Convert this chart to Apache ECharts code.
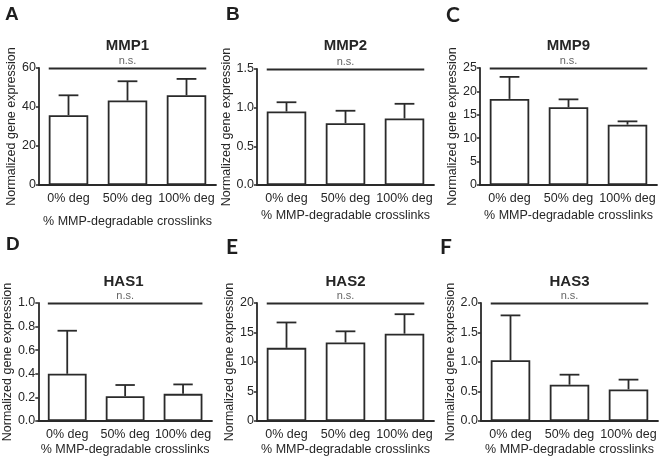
<!DOCTYPE html>
<html><head><meta charset="utf-8">
<script src="https://cdn.jsdelivr.net/npm/echarts@6/dist/echarts.min.js"></script>
<style>html,body{margin:0;padding:0;background:#fff}#c{width:664px;height:460px}</style>
</head><body><div id="c"></div>
<script>
// ---- data ----
const categories = ['0% deg', '50% deg', '100% deg'];
const panelLetters = ['A', 'B', 'C', 'D', 'E', 'F'];
const genes = ['MMP1', 'MMP2', 'MMP9', 'HAS1', 'HAS2', 'HAS3'];
const mmp1Mean = [35.8, 43.3, 46.0];
const mmp1Err  = [10.2, 9.9, 8.4];
const mmp2Mean = [0.95, 0.80, 0.86];
const mmp2Err  = [0.12, 0.16, 0.19];
const mmp9Mean = [18.4, 16.6, 12.9];
const mmp9Err  = [4.7, 1.7, 0.7];
const has1Mean = [0.40, 0.21, 0.23];
const has1Err  = [0.365, 0.095, 0.08];
const has2Mean = [12.4, 13.3, 14.8];
const has2Err  = [4.3, 1.9, 3.3];
const has3Mean = [1.03, 0.615, 0.536];
const has3Err  = [0.76, 0.17, 0.165];
const yMax = [60, 1.5, 25, 1.0, 20, 2.0];
const yStep = [20, 0.5, 5, 0.2, 5, 0.5];
const yDecimals = [0, 1, 0, 1, 0, 1];
const sigLabel = 'n.s.';
const yName = 'Normalized gene expression';
const xName = '% MMP-degradable crosslinks';

const means = [mmp1Mean, mmp2Mean, mmp9Mean, has1Mean, has2Mean, has3Mean];
const errs = [mmp1Err, mmp2Err, mmp9Err, has1Err, has2Err, has3Err];

// ---- layout ----
const grids = [
  {left: 39, top: 68, width: 177, height: 117},
  {left: 257, top: 69, width: 177, height: 116},
  {left: 480, top: 68, width: 177, height: 117},
  {left: 35, top: 303, width: 177, height: 118},
  {left: 257, top: 303, width: 177, height: 118},
  {left: 481, top: 303, width: 177, height: 118}
];
const yNameGap = [21, 17, 14, 19, 20, 5];
const xNameGap = [30, 24, 24, 22, 22, 22];
const titleTop = [38, 38, 38, 274, 274, 274];
const letterPos = [[5, 5], [226, 5], [446, 5], [6, 235], [226, 237], [440, 237]];
const letterFont = ['Liberation Sans', 'Liberation Sans', 'Lato', 'Liberation Sans', 'Lato', 'Lato'];
const ink = '#2a2a2a';
const txt = '#262626';
const barFrac = 0.67;

const option = {
  animation: false,
  backgroundColor: '#fff',
  title: [],
  grid: [],
  xAxis: [],
  yAxis: [],
  series: []
};

for (let i = 0; i < 6; i++) {
  const g = grids[i];
  option.grid.push(Object.assign({containLabel: false}, g));
  option.title.push({
    text: genes[i], left: g.left + g.width / 2, top: titleTop[i], textAlign: 'center', padding: 0,
    textStyle: {fontFamily: 'Liberation Sans', fontSize: 15, fontWeight: 'bold', color: '#262626'}
  });
  option.title.push({
    text: panelLetters[i], left: letterPos[i][0], top: letterPos[i][1], padding: 0,
    textStyle: {fontFamily: letterFont[i], fontSize: letterFont[i] === 'Lato' ? 21 : 19, fontWeight: 'bold', color: '#1e1e1e'}
  });
  option.xAxis.push({
    type: 'category', gridIndex: i, data: categories,
    name: xName, nameLocation: 'middle', nameGap: xNameGap[i],
    nameTextStyle: {fontFamily: 'Liberation Sans', fontSize: 12.5, color: txt},
    axisLine: {lineStyle: {color: ink, width: 1.8}},
    axisTick: {alignWithLabel: true, length: 4, lineStyle: {color: ink, width: 1.5}},
    axisLabel: {interval: 0, fontFamily: 'Liberation Sans', fontSize: 12.5, color: txt, margin: 7},
    splitLine: {show: false}
  });
  const dec = yDecimals[i];
  option.yAxis.push({
    type: 'value', gridIndex: i, min: 0, max: yMax[i], interval: yStep[i],
    name: yName, nameLocation: 'middle', nameGap: yNameGap[i],
    nameTextStyle: {fontFamily: 'Liberation Sans', fontSize: 12.5, color: txt},
    axisLine: {show: true, lineStyle: {color: ink, width: 1.8}},
    axisTick: {show: true, length: 3, lineStyle: {color: ink, width: 1.5}},
    axisLabel: {fontFamily: 'Liberation Sans', fontSize: 12.5, color: txt, margin: 3,
      formatter: v => v.toFixed(dec)},
    splitLine: {show: false}
  });
  option.series.push({
    type: 'bar', xAxisIndex: i, yAxisIndex: i, data: means[i], barWidth: (barFrac * 100) + '%',
    itemStyle: {color: '#fff', borderColor: ink, borderWidth: 1.8}
  });
  option.series.push({
    type: 'custom', xAxisIndex: i, yAxisIndex: i, z: 3,
    data: means[i].map((m, k) => [k, m, m + errs[i][k]]),
    encode: {x: 0, y: [1, 2]},
    renderItem: (params, api) => {
      const x = api.value(0), m = api.value(1), t = api.value(2);
      const p0 = api.coord([x, m]), p1 = api.coord([x, t]);
      const half = api.size([1, 0])[0] * barFrac / 4;
      const st = {stroke: ink, lineWidth: 1.8};
      return {type: 'group', children: [
        {type: 'line', shape: {x1: p0[0], y1: p0[1], x2: p1[0], y2: p1[1]}, style: st},
        {type: 'line', shape: {x1: p1[0] - half, y1: p1[1], x2: p1[0] + half, y2: p1[1]}, style: st}
      ]};
    }
  });
  const top = yMax[i];
  option.series.push({
    type: 'custom', xAxisIndex: i, yAxisIndex: i, clip: false, z: 4,
    data: [[0, top, categories.length - 1]],
    encode: {x: [0, 2], y: 1},
    renderItem: (params, api) => {
      const a = api.coord([api.value(0), api.value(1)]);
      const b = api.coord([api.value(2), api.value(1)]);
      const hb = api.size([1, 0])[0] * barFrac / 2;
      const y = a[1] + 0.5;
      return {type: 'group', children: [
        {type: 'line', shape: {x1: a[0] - hb, y1: y, x2: b[0] + hb, y2: y}, style: {stroke: ink, lineWidth: 1.8}},
        {type: 'text', x: (a[0] + b[0]) / 2, y: y - 2,
          style: {text: sigLabel, align: 'center', verticalAlign: 'bottom', fontSize: 11, fontFamily: 'Liberation Sans', fill: '#666'}}
      ]};
    }
  });
}

const chart = echarts.init(document.getElementById('c'), null, {renderer: 'canvas'});
chart.setOption(option);
</script>
</body></html>
